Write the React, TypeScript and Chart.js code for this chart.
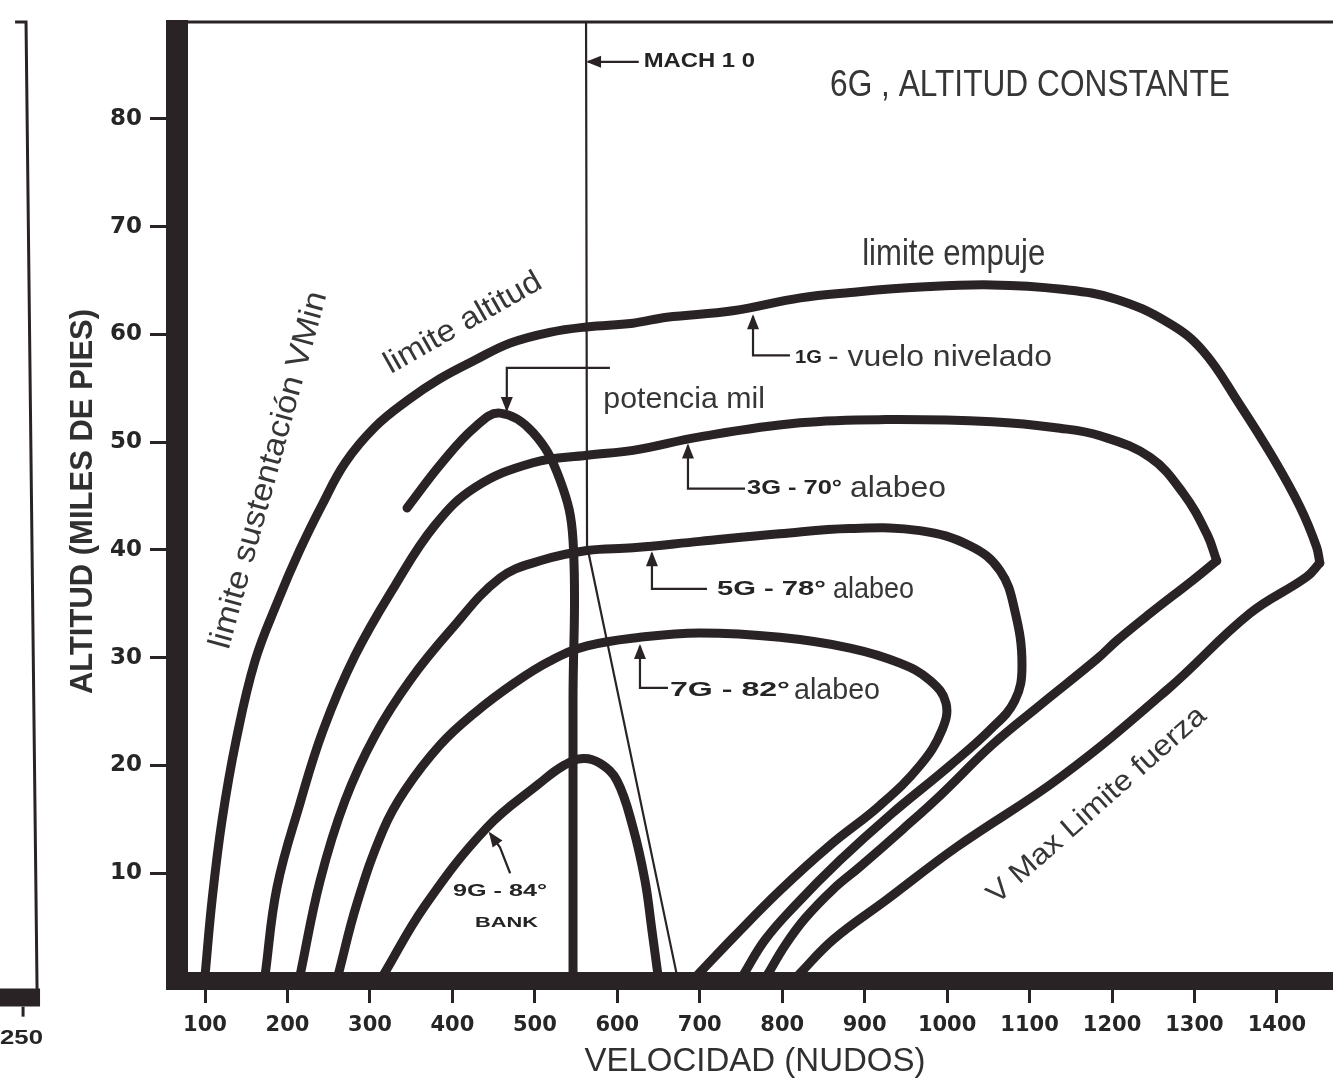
import { useEffect, useRef } from 'react';
import { Chart, registerables } from 'chart.js';

Chart.register(...registerables);

// ---- axes ----
const X_TICKS = [100, 200, 300, 400, 500, 600, 700, 800, 900, 1000, 1100, 1200, 1300, 1400];
const Y_TICKS = [10, 20, 30, 40, 50, 60, 70, 80];
const X_MIN = 66;
const X_MAX = 1468;
const Y_MIN = 0;
const Y_MAX = 89;

// ---- 1G - vuelo nivelado (upper arc up to the nose, then the V max branch) ----
const G1_UP_SPEED = [100, 108.5, 120.6, 137.6, 160.6, 188.5, 215, 242, 270, 306, 346, 385, 427, 470, 518, 563, 619, 660, 740, 822, 883, 968, 1054, 1139, 1204, 1268, 1310, 1354, 1395, 1428, 1448, 1452];
const G1_UP_ALT = [0.5, 7.5, 14.9, 22.3, 29.7, 35.3, 40.0, 44.2, 48.1, 51.4, 53.9, 55.9, 57.6, 59.2, 60.2, 60.7, 61.05, 61.6, 62.2, 63.4, 63.9, 64.4, 64.6, 64.2, 63.3, 61.1, 58.5, 53.6, 48.6, 44.0, 40.3, 38.8];
const G1_LOW_SPEED = [1452, 1436, 1367, 1268, 1139, 1011, 926, 862, 819];
const G1_LOW_ALT = [38.8, 37.5, 34.1, 27.1, 19.0, 12.4, 7.5, 3.85, 0.5];

// ---- 3G - 70° ----
const G3_UP_SPEED = [172.8, 187.3, 215.2, 243.1, 281.9, 330.4, 378.9, 427.4, 497.8, 563.3, 619, 700, 821.6, 925.9, 1054.4, 1136.9, 1185.4, 1246, 1286, 1315, 1327];
const G3_UP_ALT = [0.5, 8.7, 16.5, 23.25, 30.2, 36.7, 42.3, 45.8, 48.1, 48.8, 49.25, 50.5, 51.8, 52.1, 51.9, 51.3, 50.6, 48.6, 45.3, 41.5, 39.0];
const G3_LOW_SPEED = [1327, 1298, 1246, 1206, 1182, 1112.6, 1054.4, 991.3, 946.5, 894.3, 861.6, 827.6, 803.4, 781.5];
const G3_LOW_ALT = [39.0, 37.2, 34.1, 31.6, 29.9, 25.6, 21.9, 17.2, 14.1, 10.6, 8.5, 5.8, 3.3, 0.5];

// ---- 5G - 78° ----
const G5_SPEED = [215.2, 239.5, 269.8, 306.2, 348.6, 397.1, 457.7, 506.3, 563.3, 619, 700, 797, 882, 967, 1027.7, 1064, 1082, 1090.8, 1082, 1052, 1003.5, 930.7, 870, 815.5, 779, 752.4];
const G5_ALT = [0.5, 9.3, 16.75, 22.8, 27.9, 32.5, 37.4, 39.0, 39.95, 40.2, 40.8, 41.5, 42.0, 41.8, 40.4, 38.1, 34.4, 29.3, 26.0, 23.3, 20.0, 15.4, 11.2, 7.0, 3.8, 0.5];

// ---- 7G - 82° ----
const G7_SPEED = [261.3, 284.3, 315.9, 342.5, 385, 427.4, 476, 518.4, 563.3, 627.5, 700.3, 797.3, 882.2, 942.8, 979.2, 998.6, 993.8, 967.1, 918.6, 858, 797.3, 742.7, 696.6];
const G7_ALT = [0.5, 7.2, 14.0, 17.7, 21.9, 24.9, 27.7, 29.7, 31.1, 31.9, 32.3, 31.9, 30.9, 29.5, 27.9, 25.8, 23.3, 20.0, 16.3, 12.6, 8.4, 4.2, 0.5];

// ---- 9G - 84° bank ----
const G9_SPEED = [315.9, 366.8, 442, 505, 535, 558.4, 579, 599.6, 619, 633.6, 642, 649.4];
const G9_ALT = [0.5, 7.0, 14.25, 18.3, 20.0, 20.65, 20.2, 18.6, 14.25, 9.3, 4.7, 0.5];

// ---- potencia mil ----
const MIL_SPEED = [345, 387.4, 427.4, 457.7, 497.8, 530.5, 546.3, 546.3, 546.3];
const MIL_ALT = [43.9, 48.1, 51.4, 52.7, 50.9, 46.5, 40.9, 26.0, 0.5];

// ---- Mach 1.0 ----
const MACH_SPEED = [562.1, 563.3, 672.4];
const MACH_ALT = [89, 40.4, 0.5];

// ---- text annotations (data units) ----
const TEXT_SPANS = [
  { t: '6G , ALTITUD CONSTANTE', size: 37, x1: 858, x2: 1343, y: 83.1 },
  { t: 'MACH 1 0', bold: true, size: 20, x1: 632, x2: 767, y: 85.3 },
  { t: 'limite empuje', size: 36, x1: 897, x2: 1119, y: 67.4 },
  { t: 'potencia mil', size: 30, x1: 583, x2: 779, y: 53.9 },
  { t: '1G', bold: true, size: 19, x1: 815.5, x2: 848.2, y: 57.86 },
  { t: '- vuelo nivelado', size: 30, x1: 855.5, x2: 1127.2, y: 57.86 },
  { t: '3G - 70°', bold: true, size: 20, x1: 757.3, x2: 872.5, y: 45.7 },
  { t: 'alabeo', size: 30, x1: 882.2, x2: 998.6, y: 45.7 },
  { t: '5G - 78°', bold: true, size: 20, x1: 720.9, x2: 853, y: 36.3 },
  { t: 'alabeo', size: 30, x1: 861.6, x2: 960, y: 36.3 },
  { t: '7G - 82°', bold: true, size: 20, x1: 663.9, x2: 809.4, y: 26.95 },
  { t: 'alabeo', size: 30, x1: 814.3, x2: 918.6, y: 26.95 },
  { t: '9G - 84°', bold: true, size: 17, x1: 400.7, x2: 514.7, y: 8.3 },
  { t: 'BANK', bold: true, size: 15, x1: 427.4, x2: 503.8, y: 5.4 },
  { t: '250', bold: true, size: 21, x1: -148.6, x2: -96.5, y: -5.35 },
];

const TEXT_ROTATED = [
  { t: 'limite altitud', size: 31, x: 413, y: 61.05, len: 176, angle: -29.6 },
  { t: 'limite sustentación VMin', size: 32, x: 177.6, y: 47.4, len: 369, angle: -74.6 },
  { t: 'V Max Limite fuerza', size: 29, x: 1181.7, y: 16.3, len: 282, angle: -41.5 },
];

// callout leaders (data units), arrowhead at last point
const CALLOUTS = [
  { xs: [626, 564.5], ys: [85.3, 85.3] },
  { xs: [591, 466, 466], ys: [56.9, 56.9, 53.0] },
  { xs: [809.4, 764.6, 764.6], ys: [58.07, 58.07, 61.7] },
  { xs: [754.9, 685.7, 685.7], ys: [45.7, 45.7, 49.7] },
  { xs: [708.8, 642, 642], ys: [36.4, 36.4, 39.7] },
  { xs: [661.5, 627.5, 627.5], ys: [27.2, 27.2, 31.1] },
  { xs: [470, 457.7, 445.6], ys: [10.0, 12.4, 13.7] },
];

// remnant of the neighbouring figure at the far left (data units)
const SIDE_FRAME_X = [-130.4, -117.1, -103.7];
const SIDE_FRAME_Y = [89, 89, -0.89];
const SIDE_BAR_X = [-152, -100.1];
const SIDE_BAR_Y = -1.54;
const SIDE_TICK_X = -120.7;
const SIDE_TICK_Y = [-2.38, -3.31];

const INK = '#2a2325';
const TEXT_INK = '#363636';
const FONT = '"Liberation Sans", Arial, sans-serif';

const pts = (xs: number[], ys: number[]) => xs.map((x, i) => ({ x, y: ys[i] }));

function fitText(ctx: CanvasRenderingContext2D, t: string, font: string, cx: number, cy: number, width: number, angleDeg: number, color: string) {
  ctx.save();
  ctx.font = font;
  const w = ctx.measureText(t).width || 1;
  ctx.translate(cx, cy);
  ctx.rotate((angleDeg * Math.PI) / 180);
  ctx.scale(width / w, 1);
  ctx.textAlign = 'center';
  ctx.textBaseline = 'middle';
  ctx.fillStyle = color;
  ctx.fillText(t, 0, 0);
  ctx.restore();
}

const annotate = {
  id: 'annotate',
  beforeDraw(chart: any) {
    const { ctx, width, height } = chart;
    ctx.save();
    ctx.fillStyle = '#ffffff';
    ctx.fillRect(0, 0, width, height);
    ctx.restore();
  },
  afterDraw(chart: any) {
    const { ctx, chartArea: a, scales } = chart;
    const X = (v: number) => scales.x.getPixelForValue(v);
    const Y = (v: number) => scales.y.getPixelForValue(v);
    ctx.save();
    // trim the axis bar overshoot above the frame
    ctx.fillStyle = '#ffffff';
    ctx.fillRect(a.left - 13, 0, 26, a.top - 2);
    ctx.strokeStyle = INK;
    ctx.fillStyle = INK;
    // top frame line
    ctx.lineWidth = 3;
    ctx.beginPath();
    ctx.moveTo(a.left - 11, a.top);
    ctx.lineTo(a.right, a.top);
    ctx.stroke();
    // axes corner
    ctx.fillRect(a.left - 11, a.bottom - 9, 22, 18);

    // side remnant
    ctx.lineWidth = 3;
    ctx.beginPath();
    SIDE_FRAME_X.forEach((x, i) => (i ? ctx.lineTo(X(x), Y(SIDE_FRAME_Y[i])) : ctx.moveTo(X(x), Y(SIDE_FRAME_Y[i]))));
    ctx.stroke();
    ctx.lineWidth = 18;
    ctx.beginPath();
    ctx.moveTo(X(SIDE_BAR_X[0]), Y(SIDE_BAR_Y));
    ctx.lineTo(X(SIDE_BAR_X[1]), Y(SIDE_BAR_Y));
    ctx.stroke();
    ctx.lineWidth = 3;
    ctx.beginPath();
    ctx.moveTo(X(SIDE_TICK_X), Y(SIDE_TICK_Y[0]));
    ctx.lineTo(X(SIDE_TICK_X), Y(SIDE_TICK_Y[1]));
    ctx.stroke();

    // callouts
    ctx.lineWidth = 2.2;
    ctx.lineJoin = 'miter';
    CALLOUTS.forEach((c) => {
      ctx.beginPath();
      c.xs.forEach((x, i) => (i ? ctx.lineTo(X(x), Y(c.ys[i])) : ctx.moveTo(X(x), Y(c.ys[i]))));
      ctx.stroke();
      const n = c.xs.length;
      const x1 = X(c.xs[n - 2]), y1 = Y(c.ys[n - 2]);
      const x2 = X(c.xs[n - 1]), y2 = Y(c.ys[n - 1]);
      const ang = Math.atan2(y2 - y1, x2 - x1);
      const L = 13, W = 6;
      const cs = Math.cos(ang), sn = Math.sin(ang);
      ctx.beginPath();
      ctx.moveTo(x2 + cs * 2, y2 + sn * 2);
      ctx.lineTo(x2 - cs * L - sn * W, y2 - sn * L + cs * W);
      ctx.lineTo(x2 - cs * L + sn * W, y2 - sn * L - cs * W);
      ctx.closePath();
      ctx.fill();
    });

    // texts
    TEXT_SPANS.forEach((s: any) => {
      const font = `${s.bold ? 'bold ' : ''}${s.size}px ${FONT}`;
      const x1 = X(s.x1), x2 = X(s.x2);
      fitText(ctx, s.t, font, (x1 + x2) / 2, Y(s.y), x2 - x1, 0, s.bold ? '#242424' : TEXT_INK);
    });
    TEXT_ROTATED.forEach((s) => {
      fitText(ctx, s.t, `${s.size}px ${FONT}`, X(s.x), Y(s.y), s.len, s.angle, TEXT_INK);
    });
    ctx.restore();
  },
};

export default function App() {
  const ref = useRef<HTMLCanvasElement | null>(null);

  useEffect(() => {
    if (!ref.current) return;
    const curve = (label: string, xs: number[], ys: number[]) => ({
      label,
      data: pts(xs, ys),
      showLine: true,
      borderColor: INK,
      backgroundColor: INK,
      borderWidth: 9,
      pointRadius: 0,
      tension: 0.4,
      borderCapStyle: 'round' as const,
      borderJoinStyle: 'round' as const,
      fill: false,
    });
    const chart = new Chart(ref.current, {
      type: 'scatter',
      data: {
        datasets: [
          curve('1G - vuelo nivelado', G1_UP_SPEED, G1_UP_ALT),
          curve('1G - V max', G1_LOW_SPEED, G1_LOW_ALT),
          curve('3G - 70° alabeo', G3_UP_SPEED, G3_UP_ALT),
          curve('3G - V max', G3_LOW_SPEED, G3_LOW_ALT),
          curve('5G - 78° alabeo', G5_SPEED, G5_ALT),
          curve('7G - 82° alabeo', G7_SPEED, G7_ALT),
          curve('9G - 84° bank', G9_SPEED, G9_ALT),
          curve('potencia mil', MIL_SPEED, MIL_ALT),
          { ...curve('Mach 1.0', MACH_SPEED, MACH_ALT), borderWidth: 2.2, tension: 0 },
        ],
      },
      options: {
        animation: false,
        responsive: false,
        devicePixelRatio: 1,
        layout: { padding: { top: 22, right: 0, left: 0, bottom: 0 } },
        plugins: { legend: { display: false }, tooltip: { enabled: false } },
        scales: {
          x: {
            type: 'linear',
            position: 'bottom',
            min: X_MIN,
            max: X_MAX,
            afterFit: (s: any) => {
              s.height = 105;
            },
            afterBuildTicks: (s: any) => {
              s.ticks = X_TICKS.map((v) => ({ value: v }));
            },
            grid: { display: true, drawOnChartArea: false, drawTicks: true, tickLength: 22, tickWidth: 3, tickColor: INK },
            border: { display: true, width: 18, color: INK },
            ticks: {
              autoSkip: false,
              maxRotation: 0,
              padding: 10,
              color: '#262626',
              font: { family: 'DejaVu Sans', size: 21, weight: 'bold' },
              callback: (v: any) => String(v),
            },
            title: {
              display: true,
              text: 'VELOCIDAD (NUDOS)',
              color: '#303030',
              font: { family: 'Liberation Sans', size: 33 },
              padding: { top: 0, bottom: 4 },
            },
          },
          y: {
            type: 'linear',
            position: 'left',
            min: Y_MIN,
            max: Y_MAX,
            afterFit: (s: any) => {
              s.width = 177;
            },
            afterBuildTicks: (s: any) => {
              s.ticks = Y_TICKS.map((v) => ({ value: v }));
            },
            grid: { display: true, drawOnChartArea: false, drawTicks: true, tickLength: 27, tickWidth: 3, tickColor: INK },
            border: { display: true, width: 22, color: INK },
            ticks: {
              autoSkip: false,
              padding: 8,
              color: '#262626',
              font: { family: 'DejaVu Sans', size: 23, weight: 'bold' },
              callback: (v: any) => String(v),
            },
            title: {
              display: true,
              text: 'ALTITUD (MILES DE PIES)',
              color: '#303030',
              font: { family: 'Liberation Sans', size: 31, weight: 'bold' },
              padding: { top: 65, bottom: 0 },
            },
          },
        },
      },
      plugins: [annotate],
    } as any);
    return () => chart.destroy();
  }, []);

  return (
    <div style={{ position: 'absolute', left: 0, top: 0, width: 1333, height: 1086, background: '#ffffff' }}>
      <canvas ref={ref} width={1333} height={1086} style={{ display: 'block' }} />
    </div>
  );
}
